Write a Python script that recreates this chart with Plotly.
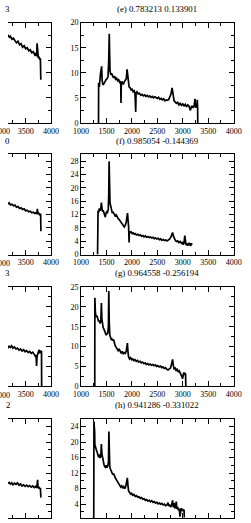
import plotly.graph_objects as go

W, H = 251, 523

# ---------------- data ----------------
titles_right = ["(e) 0.783213 0.133901", "(f) 0.985054 -0.144369",
                "(g) 0.964558 -0.256194", "(h) 0.941286 -0.331022"]
titles_left_visible = ["3", "0", "3", "2"]

spec_e = [(1344, 0), (1346, 8.0), (1360, 7.2), (1380, 9.6), (1395, 10.5), (1405, 11.3), (1415, 8.5),
          (1430, 7.6), (1450, 7.8), (1470, 8.3), (1490, 8.6), (1510, 8.8), (1530, 9.2), (1545, 12.5),
          (1555, 17.8), (1562, 14.0), (1570, 10.4), (1585, 9.6), (1600, 9.9), (1620, 9.4), (1640, 9.0),
          (1660, 9.3), (1680, 8.7), (1700, 8.9), (1720, 8.4), (1740, 8.6), (1760, 8.1), (1780, 8.3),
          (1786, 4.0), (1792, 7.9), (1810, 8.1), (1830, 7.7), (1850, 8.2), (1870, 8.4), (1890, 8.8),
          (1905, 10.7), (1914, 9.6), (1925, 7.9), (1945, 7.2), (1965, 7.0), (1985, 6.6), (2005, 6.7),
          (2025, 6.2), (2045, 6.4), (2060, 6.0), (2075, 2.2), (2082, 5.9), (2100, 6.2), (2125, 5.8),
          (2150, 5.9), (2175, 5.5), (2200, 5.7), (2225, 5.4), (2250, 5.6), (2275, 5.3), (2300, 5.5),
          (2325, 5.2), (2350, 5.4), (2375, 5.1), (2400, 5.3), (2425, 5.0), (2450, 5.2), (2475, 5.0),
          (2500, 4.9), (2525, 5.1), (2550, 4.7), (2575, 4.9), (2600, 4.6), (2625, 4.8), (2650, 4.4),
          (2675, 4.6), (2700, 4.5), (2725, 4.7), (2750, 5.2), (2770, 5.8), (2790, 7.0), (2800, 6.2),
          (2810, 5.0), (2830, 4.4), (2850, 4.2), (2875, 3.9), (2900, 4.1), (2925, 3.6), (2950, 3.9),
          (2975, 3.5), (3000, 3.8), (3025, 3.4), (3050, 3.7), (3075, 3.2), (3100, 3.6), (3125, 3.3),
          (3150, 2.5), (3175, 3.4), (3200, 3.1), (3225, 3.5), (3240, 4.8), (3250, 3.0), (3260, 3.4),
          (3275, 3.2), (3285, 4.6), (3292, 3.0), (3295, 0)]

spec_f = [(1325, 0), (1327, 11.0), (1335, 13.2), (1345, 12.6), (1360, 13.8), (1375, 13.1), (1390, 14.0),
          (1400, 15.6), (1408, 13.4), (1420, 12.9), (1435, 13.3), (1450, 12.2), (1465, 11.6), (1478, 11.2),
          (1490, 12.4), (1505, 12.8), (1520, 12.6), (1535, 13.5), (1545, 18.0), (1552, 27.9), (1560, 22.0),
          (1570, 15.5), (1585, 14.4), (1600, 13.0), (1615, 12.4), (1630, 12.8), (1650, 12.0), (1670, 11.6),
          (1690, 11.9), (1710, 11.1), (1730, 10.8), (1750, 10.5), (1770, 10.0), (1790, 9.6), (1810, 9.0),
          (1830, 8.6), (1850, 8.3), (1870, 8.8), (1890, 9.8), (1905, 11.6), (1914, 12.4), (1925, 10.2),
          (1935, 8.5), (1945, 3.6), (1950, 6.9), (1965, 6.6), (1985, 6.8), (2005, 6.3), (2025, 6.5),
          (2045, 6.1), (2065, 6.3), (2090, 5.9), (2115, 6.1), (2140, 5.7), (2165, 5.9), (2190, 5.5),
          (2215, 5.7), (2240, 5.3), (2265, 5.6), (2290, 5.2), (2315, 5.4), (2340, 5.1), (2365, 5.3),
          (2390, 5.0), (2415, 5.2), (2440, 4.8), (2465, 5.0), (2490, 4.7), (2515, 4.9), (2540, 4.5),
          (2565, 4.7), (2590, 4.3), (2615, 4.5), (2640, 4.2), (2665, 4.4), (2690, 4.1), (2715, 4.3),
          (2740, 4.6), (2765, 5.2), (2785, 6.0), (2800, 6.6), (2815, 5.6), (2835, 4.6), (2855, 4.2),
          (2875, 3.9), (2900, 4.1), (2925, 3.6), (2950, 3.9), (2975, 3.4), (2995, 3.6), (3010, 3.0),
          (3025, 3.5), (3040, 5.7), (3050, 3.2), (3065, 2.8), (3080, 3.3), (3095, 2.7), (3110, 3.2),
          (3125, 2.9), (3140, 3.5), (3155, 2.6), (3170, 3.3), (3185, 3.0)]

spec_g = [(1270, 0), (1272, 22.3), (1276, 19.5), (1282, 18.6), (1290, 18.0), (1300, 17.4), (1315, 17.8),
          (1330, 16.9), (1345, 16.3), (1360, 16.6), (1375, 15.8), (1390, 16.5), (1400, 21.0), (1410, 17.0),
          (1420, 15.3), (1435, 14.8), (1450, 14.4), (1465, 13.9), (1480, 13.5), (1495, 12.9), (1510, 13.2),
          (1525, 13.4), (1538, 15.0), (1546, 24.0), (1554, 16.5), (1565, 12.9), (1580, 12.3), (1595, 11.8),
          (1610, 11.9), (1625, 11.5), (1640, 11.8), (1655, 10.9), (1670, 10.3), (1690, 9.8), (1710, 9.5),
          (1730, 9.0), (1750, 9.4), (1770, 8.6), (1790, 8.3), (1810, 8.8), (1830, 8.2), (1850, 8.5),
          (1870, 8.3), (1890, 8.9), (1905, 10.2), (1912, 10.9), (1922, 8.8), (1935, 7.4), (1955, 6.9),
          (1975, 7.2), (1995, 6.7), (2015, 6.9), (2035, 6.5), (2060, 6.7), (2085, 6.3), (2110, 6.5),
          (2135, 6.1), (2160, 6.3), (2185, 5.9), (2210, 6.1), (2235, 5.7), (2260, 5.9), (2285, 5.5),
          (2310, 5.7), (2335, 5.4), (2360, 5.6), (2385, 5.3), (2410, 5.5), (2435, 5.2), (2460, 5.4),
          (2485, 5.0), (2510, 5.2), (2535, 4.9), (2560, 5.1), (2585, 4.7), (2610, 4.9), (2635, 4.5),
          (2660, 4.7), (2685, 4.3), (2710, 4.1), (2735, 4.4), (2760, 4.6), (2780, 5.6), (2800, 6.8),
          (2815, 5.2), (2830, 4.4), (2850, 4.6), (2870, 4.0), (2890, 4.3), (2910, 3.7), (2930, 3.9),
          (2950, 3.4), (2970, 3.1), (2985, 2.4), (2995, 1.9), (3005, 3.1), (3020, 3.5), (3030, 2.8),
          (3040, 3.4), (3050, 2.9), (3055, 3.2), (3060, 0)]

spec_h = [(1250, 0), (1254, 25.3), (1258, 21.0), (1262, 20.2), (1268, 22.6), (1272, 19.4), (1280, 18.6),
          (1290, 18.9), (1300, 18.0), (1315, 17.5), (1330, 16.9), (1345, 16.1), (1360, 16.8), (1375, 15.9),
          (1390, 16.6), (1400, 19.5), (1410, 17.0), (1420, 16.1), (1435, 15.2), (1450, 14.3), (1465, 13.7),
          (1480, 13.5), (1495, 14.0), (1510, 13.4), (1525, 13.9), (1540, 14.8), (1548, 22.7), (1556, 17.5),
          (1565, 13.6), (1580, 13.0), (1595, 12.6), (1610, 12.0), (1625, 11.6), (1640, 11.9), (1660, 11.1),
          (1680, 10.6), (1700, 10.2), (1720, 9.8), (1740, 9.3), (1760, 8.8), (1780, 8.4), (1800, 8.7),
          (1820, 8.1), (1840, 8.5), (1860, 8.0), (1880, 8.6), (1898, 9.6), (1910, 10.8), (1922, 8.9),
          (1935, 7.4), (1955, 7.0), (1975, 6.6), (1995, 6.8), (2015, 6.3), (2040, 6.5), (2065, 6.0),
          (2090, 6.2), (2115, 5.8), (2140, 5.9), (2165, 5.5), (2190, 5.7), (2215, 5.3), (2240, 5.4),
          (2265, 5.0), (2290, 5.2), (2315, 4.8), (2340, 5.0), (2365, 4.6), (2390, 4.9), (2415, 4.5),
          (2440, 4.7), (2465, 4.3), (2490, 4.5), (2515, 4.1), (2540, 4.3), (2565, 4.0), (2590, 4.2),
          (2615, 3.8), (2640, 4.0), (2665, 3.6), (2690, 3.8), (2710, 4.4), (2725, 3.5), (2740, 3.9),
          (2760, 3.3), (2780, 3.7), (2800, 5.0), (2815, 3.2), (2830, 4.3), (2845, 2.9), (2860, 3.5),
          (2872, 4.7), (2885, 2.8), (2900, 3.3), (2915, 2.4), (2930, 2.9), (2945, 0.8), (2955, 2.2),
          (2970, 3.0), (2985, 2.3), (3000, 2.8), (3015, 2.1), (3025, 2.6), (3030, 0.6)]

# left column (only the right-hand end of these panels is visible)
spec_a = [(3100, 17.8), (3153, 17.5), (3180, 17.1), (3200, 17.3), (3230, 16.7), (3260, 16.9), (3290, 16.4),
          (3320, 16.0), (3350, 16.3), (3380, 15.6), (3410, 15.8), (3440, 15.1), (3470, 15.4), (3500, 14.8),
          (3530, 15.0), (3560, 14.4), (3590, 14.6), (3620, 14.0), (3650, 14.2), (3680, 13.6), (3700, 13.9),
          (3715, 13.3), (3725, 15.9), (3735, 13.4), (3750, 12.9), (3765, 13.2), (3780, 12.6), (3790, 12.9),
          (3798, 8.6)]
spec_b = [(3100, 15.4), (3153, 15.2), (3175, 15.5), (3200, 14.9), (3230, 15.1), (3260, 14.6), (3290, 14.8),
          (3320, 14.2), (3350, 14.4), (3380, 13.8), (3410, 14.0), (3440, 13.5), (3470, 13.7), (3500, 13.1),
          (3530, 13.3), (3560, 12.8), (3590, 13.0), (3620, 12.5), (3650, 12.7), (3680, 12.3), (3700, 12.5),
          (3720, 12.2), (3730, 13.7), (3745, 12.1), (3760, 12.3), (3780, 11.9), (3795, 12.0), (3800, 7.0)]
spec_c = [(3100, 9.9), (3153, 9.7), (3175, 10.1), (3200, 9.8), (3225, 10.2), (3250, 9.6), (3280, 9.9),
          (3310, 9.4), (3340, 9.6), (3370, 9.1), (3400, 9.4), (3430, 8.9), (3460, 9.2), (3490, 8.7),
          (3520, 9.0), (3550, 8.5), (3580, 8.8), (3610, 8.3), (3640, 8.6), (3670, 8.1), (3690, 7.6),
          (3705, 7.9), (3715, 5.1), (3725, 7.6), (3740, 8.2), (3755, 8.8), (3765, 9.2), (3775, 8.3),
          (3790, 9.0), (3800, 8.6), (3812, 8.9), (3815, 0)]
spec_d = [(3100, 9.0), (3153, 9.3), (3175, 9.6), (3200, 9.2), (3225, 9.5), (3250, 9.0), (3280, 9.4),
          (3310, 9.1), (3340, 9.5), (3370, 8.9), (3400, 9.2), (3430, 8.7), (3460, 9.0), (3490, 8.6),
          (3520, 8.9), (3550, 8.5), (3580, 8.8), (3610, 8.4), (3640, 8.7), (3670, 8.3), (3700, 8.6),
          (3720, 8.2), (3735, 10.3), (3745, 8.1), (3760, 8.5), (3775, 7.9), (3790, 8.2), (3800, 5.7)]

y_ranges = [[0, 20], [0, 30], [0, 25], [0.45, 26]]
y_dticks = [5, 4, 5, 4]
x_range_right = [1000, 4000]
x_range_left = [3153, 4000]
x_dtick = 500

# ---------------- layout geometry (pixels) ----------------
rows_px = [(19, 121), (153, 255), (288, 389), (422, 523)]
right_px = (78, 241)
left_px = (0, 46)

FONT = "Liberation Serif, Times New Roman, serif"
tickfont = dict(family=FONT, size=8, color="black")

fig = go.Figure()
right_specs = [spec_e, spec_f, spec_g, spec_h]
left_specs = [spec_a, spec_b, spec_c, spec_d]

annotations = []
for i in range(4):
    top, bot = rows_px[i]
    ydom = [1 - bot / H, 1 - top / H]
    rn = 2 * i + 1
    ln = 2 * i + 2
    for n, spec, xdom, xr, left in [(rn, right_specs[i], right_px, x_range_right, False),
                                    (ln, left_specs[i], left_px, x_range_left, True)]:
        xs = [p[0] for p in spec]
        ys = [p[1] for p in spec]
        sfx = "" if n == 1 else str(n)
        fig.add_trace(go.Scatter(x=xs, y=ys, mode="lines",
                                 line=dict(color="black", width=1.7),
                                 xaxis="x" + sfx, yaxis="y" + sfx,
                                 showlegend=False, hoverinfo="skip"))
        xa = dict(domain=[xdom[0] / W, xdom[1] / W], range=xr, anchor="y" + sfx,
                  tick0=1000, dtick=x_dtick, ticks="inside", ticklen=5, tickwidth=1,
                  tickcolor="black", showline=True, linecolor="black", linewidth=1,
                  mirror="allticks", showgrid=False, zeroline=False,
                  tickfont=tickfont, showticklabels=(i < 3),
                  minor=dict(dtick=250, tick0=1000, ticks="inside", ticklen=3,
                             tickcolor="black", tickwidth=1, showgrid=False))
        ya = dict(domain=ydom, range=y_ranges[i], anchor="x" + sfx,
                  tick0=0, dtick=y_dticks[i], ticks="inside", ticklen=5, tickwidth=1,
                  tickcolor="black", showline=True, linecolor="black", linewidth=1,
                  showgrid=False, zeroline=False, tickfont=tickfont,
                  minor=dict(dtick=y_dticks[i] / 2, tick0=0, ticks="inside", ticklen=3,
                             tickcolor="black", tickwidth=1, showgrid=False))
        if left:
            ya.update(side="right", mirror=False, showticklabels=False)
        else:
            ya.update(mirror="allticks", showticklabels=True)
        fig.layout["xaxis" + sfx] = xa
        fig.layout["yaxis" + sfx] = ya

    annotations.append(dict(text=titles_right[i], xref="paper", yref="paper",
                            x=(right_px[0] + right_px[1]) / 2 / W, y=1 - (top - 14) / H,
                            xanchor="center", yanchor="middle", showarrow=False,
                            font=dict(family=FONT, size=8.8, color="black")))
    annotations.append(dict(text=titles_left_visible[i], xref="paper", yref="paper",
                            x=4 / W, y=1 - (top - 14) / H,
                            xanchor="right", yanchor="middle", showarrow=False,
                            font=dict(family=FONT, size=8.8, color="black")))
    if i < 3:
        # right-hand end of the clipped "3000" label of the left panel
        annotations.append(dict(text="3000", xref="paper", yref="paper",
                                x=4 / W, y=1 - (bot + 9) / H,
                                xanchor="right", yanchor="middle", showarrow=False,
                                font=tickfont))

fig.update_layout(width=W, height=H, margin=dict(l=0, r=0, t=0, b=0),
                  paper_bgcolor="white", plot_bgcolor="white",
                  annotations=annotations, showlegend=False)

fig.write_html("out.html", config={"displayModeBar": False},
               post_script="document.body.style.margin='0';document.body.style.padding='0';"
                           "document.body.style.overflow='hidden';")
